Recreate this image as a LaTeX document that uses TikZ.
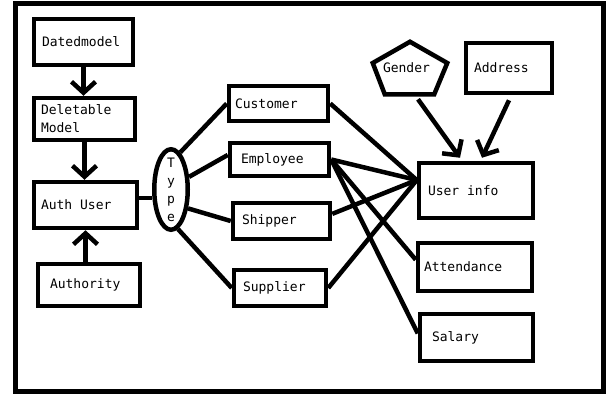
\documentclass[tikz,border=0pt]{standalone}
\usepackage{fontspec}
\setmonofont{DejaVu Sans Mono}
\usetikzlibrary{shapes.geometric,arrows.meta}
\begin{document}
\begin{tikzpicture}[x=1pt, y=-1pt, line width=4.5pt,
	ent/.style={draw, rectangle, inner ysep=0pt, align=flush left, font=\ttfamily\fontsize{13}{18}\selectfont},
	arr/.style={-{Straight Barb[length=11pt, width=24pt]}}]
	\useasboundingbox (0,0) rectangle (608,400);
	\draw[line width=5pt] (15,3) rectangle (603,391);

	% left column
	\node[ent, text width=83pt, inner xsep=8pt, minimum height=46pt] (dated) at (83.5,42) {Datedmodel};
	\node[ent, text width=87pt, inner xsep=7pt, minimum height=42pt] (deletable) at (84.5,119) {Deletable\\Model};
	\node[ent, text width=89pt, inner xsep=7pt, minimum height=46pt] (auth) at (85.5,205) {Auth User};
	\node[ent, text width=78pt, inner xsep=12pt, minimum height=42pt] (authority) at (89,285) {Authority};

	% type
	\node[ellipse, draw, inner sep=0pt, minimum width=33.5pt, minimum height=80.5pt] (type) at (171,189.5) {};
	\node[align=center, inner sep=0pt, font=\ttfamily\fontsize{13}{18}\selectfont] (typelbl) at (type.center) {T\\y\\p\\e};

	% middle column
	\node[ent, text width=87pt, inner xsep=6pt, minimum height=35pt] (customer) at (278.5,103.5) {Customer};
	\node[ent, text width=77pt, inner xsep=11pt, minimum height=33pt] (employee) at (279.5,159.5) {Employee};
	\node[ent, text width=79pt, inner xsep=9pt, minimum height=36pt] (shipper) at (281.5,221) {Shipper};
	\node[ent, text width=74pt, inner xsep=9pt, minimum height=36pt] (supplier) at (280,288) {Supplier};

	% right column
	\node[ent, draw=none, text width=54pt, inner xsep=8pt, minimum height=48pt] (gender) at (410,68) {Gender};
	\draw (gender.north) -- ([yshift=5pt]gender.east) -- ([xshift=-13pt]gender.south east) -- ([xshift=12pt]gender.south west) -- ([yshift=5pt]gender.west) -- cycle;
	\node[ent, text width=70pt, inner xsep=8pt, minimum height=50pt] (address) at (509,68) {Address};
	\node[ent, text width=96pt, inner xsep=9pt, minimum height=55pt] (userinfo) at (476,190.5) {User info};
	\node[ent, text width=102pt, inner xsep=6pt, minimum height=48pt] (attendance) at (475,267) {Attendance};
	\node[ent, text width=89pt, inner xsep=12pt, minimum height=47pt] (salary) at (476.5,337.5) {Salary};

	% arrows
	\draw[arr] (dated.south) -- (dated.south |- deletable.north);
	\draw[arr] (deletable.south) -- (deletable.south |- auth.north);
	\draw[arr] (auth.south |- authority.north) -- (auth.south);
	\draw[arr] ([xshift=8pt,yshift=-5pt]gender.south) -- ([xshift=-16pt,yshift=3pt]userinfo.north);
	\draw[arr] ([yshift=-5pt]address.south) -- ([xshift=6pt,yshift=3pt]userinfo.north);

	% lines
	\draw (type.205) -- (type.205 -| auth.east);
	\draw (type.76) -- (customer.west);
	\draw (type.35) -- (employee.175);
	\draw (type.-48) -- (shipper.west);
	\draw (type.-80) -- (supplier.west);
	\draw (customer.east) -- (userinfo.170);
	\draw (employee.east) -- (userinfo.170);
	\draw (shipper.8) -- (userinfo.170);
	\draw (supplier.east) -- (userinfo.170);
	\draw (employee.east) -- (attendance.173);
	\draw (employee.east) -- (salary.176);
\end{tikzpicture}
\end{document}
